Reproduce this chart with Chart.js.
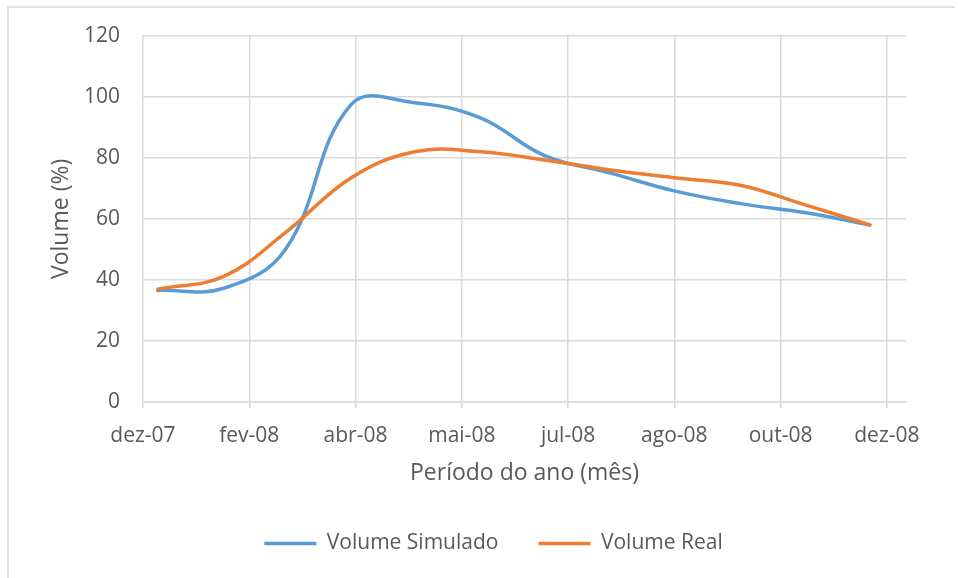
<!DOCTYPE html>
<html lang="pt">
<head>
<meta charset="utf-8">
<title>Volume simulado e real</title>
<script src="https://cdn.jsdelivr.net/npm/chart.js@4/dist/chart.umd.min.js"></script>
<style>
  html, body { margin: 0; padding: 0; background: #ffffff; }
  #wrap { width: 958px; height: 578px; }
</style>
</head>
<body>
<div id="wrap"><canvas id="chart" width="958" height="578"></canvas></div>
<script>
// Monthly samples (end of month)
const sampleDates = [
  '2007-12-31', '2008-01-31', '2008-02-29', '2008-03-31', '2008-04-30', '2008-05-31',
  '2008-06-30', '2008-07-31', '2008-08-31', '2008-09-30', '2008-10-31', '2008-11-30'
];
const volumeSimulado = [36.6, 37.3, 50.0, 97.5, 98.0, 93.0, 80.7, 75.0, 69.0, 65.0, 62.0, 58.0];
const volumeReal     = [37.0, 41.2, 55.5, 73.5, 82.0, 82.0, 79.3, 76.0, 73.4, 71.0, 64.5, 58.0];

// Date axis: start date, major unit (days) and labels shown at each major tick
const axisStartDate = '2007-12-24';
const tickStepDays = 50;
const axisEndDays = 359;
const tickLabels = ['dez-07', 'fev-08', 'abr-08', 'mai-08', 'jul-08', 'ago-08', 'out-08', 'dez-08'];

const seriesNames = ['Volume Simulado', 'Volume Real'];
const yTicks = { min: 0, max: 120, step: 20 };

const DAY_MS = 86400000;
const startMs = Date.parse(axisStartDate);
const xDays = sampleDates.map(d => (Date.parse(d) - startMs) / DAY_MS);
const toPoints = values => values.map((v, i) => ({ x: xDays[i], y: v }));

const FONT = "'Open Sans', 'Liberation Sans', sans-serif";
const TEXT = '#595959';
const GRID = '#d9d9d9';

// Light frame around the whole chart
const framePlugin = {
  id: 'frame',
  beforeDraw(chart) {
    const ctx = chart.ctx;
    ctx.save();
    ctx.fillStyle = '#ffffff';
    ctx.fillRect(0, 0, chart.width, chart.height);
    ctx.strokeStyle = GRID;
    ctx.lineWidth = 1.5;
    ctx.beginPath();
    ctx.moveTo(8, chart.height);
    ctx.lineTo(8, 7);
    ctx.lineTo(chart.width - 3, 7);
    ctx.stroke();
    ctx.restore();
  }
};

new Chart(document.getElementById('chart'), {
  type: 'line',
  data: {
    datasets: [
      {
        label: seriesNames[0],
        data: toPoints(volumeSimulado),
        borderColor: '#5b9bd5',
        backgroundColor: '#5b9bd5',
        borderWidth: 3.5,
        pointRadius: 0,
        tension: 0.4,
        borderCapStyle: 'round',
        borderJoinStyle: 'round',
        fill: false,
        order: 1
      },
      {
        label: seriesNames[1],
        data: toPoints(volumeReal),
        borderColor: '#ed7d31',
        backgroundColor: '#ed7d31',
        borderWidth: 3.5,
        pointRadius: 0,
        tension: 0.4,
        borderCapStyle: 'round',
        borderJoinStyle: 'round',
        fill: false,
        order: 0
      }
    ]
  },
  options: {
    responsive: false,
    animation: false,
    layout: { padding: { top: 35, right: 0, bottom: 14, left: 29 } },
    plugins: {
      tooltip: { enabled: false },
      legend: {
        position: 'bottom',
        align: 'center',
        labels: {
          usePointStyle: true,
          pointStyle: 'line',
          pointStyleWidth: 52,
          padding: 40,
          color: TEXT,
          font: { family: FONT, size: 21 },
          sort: (a, b) => a.datasetIndex - b.datasetIndex
        }
      }
    },
    scales: {
      x: {
        type: 'linear',
        min: 0,
        max: axisEndDays,
        grid: { color: GRID, lineWidth: 1.5, drawTicks: true, tickLength: 6, tickColor: GRID },
        border: { display: true, color: GRID, width: 1.5 },
        ticks: {
          stepSize: tickStepDays,
          includeBounds: false,
          autoSkip: false,
          maxRotation: 0,
          padding: 15,
          color: TEXT,
          font: { family: FONT, size: 21 },
          callback: v => tickLabels[Math.round(v / tickStepDays)] ?? ''
        },
        title: {
          display: true,
          text: 'Período do ano (mês)',
          color: TEXT,
          font: { family: FONT, size: 23 },
          padding: { top: -4, bottom: 6 }
        }
      },
      y: {
        type: 'linear',
        position: 'left',
        min: yTicks.min,
        max: yTicks.max,
        grid: { color: GRID, lineWidth: 1.5, drawTicks: false },
        border: { display: false },
        ticks: {
          stepSize: yTicks.step,
          padding: 23,
          color: TEXT,
          font: { family: FONT, size: 21 }
        },
        title: {
          display: true,
          text: 'Volume (%)',
          color: TEXT,
          font: { family: FONT, size: 23 },
          padding: { top: 19, bottom: 0 }
        },
        afterFit(scale) { scale.width = 114; }
      },
      yRight: {
        type: 'linear',
        position: 'right',
        display: true,
        grid: { display: false, drawTicks: false },
        border: { display: false },
        ticks: { display: false },
        afterFit(scale) { scale.width = 52; }
      }
    }
  },
  plugins: [framePlugin]
});
</script>
</body>
</html>
